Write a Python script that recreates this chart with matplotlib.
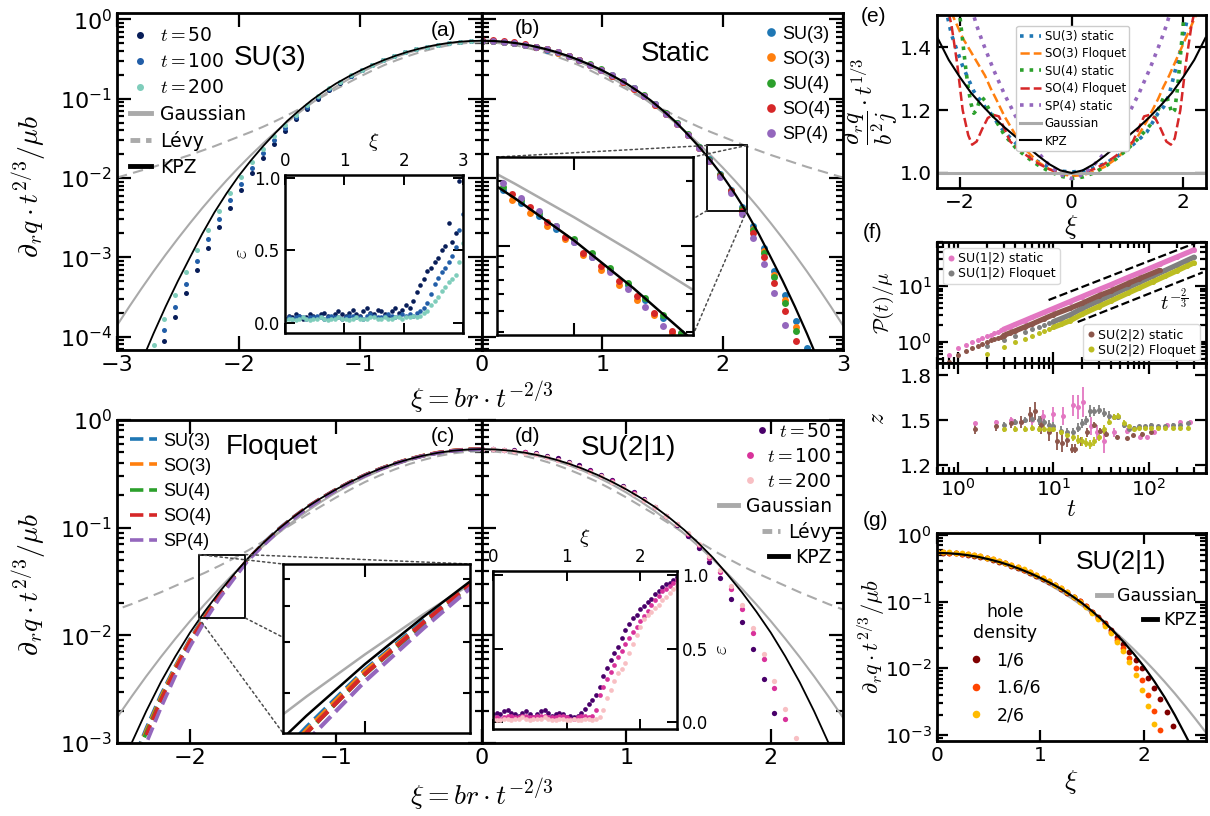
import numpy as np
import matplotlib.pyplot as plt
from matplotlib.lines import Line2D
from matplotlib.patches import Rectangle, ConnectionPatch
from matplotlib.ticker import NullFormatter

plt.rcParams['font.family'] = ['DejaVu Sans']
plt.rcParams['mathtext.fontset'] = 'cm'
nan = np.nan

# ---------------- theory curves (log10), xi >= 0, mirrored for xi < 0
xi_th = [0.0, 0.1, 0.2, 0.3, 0.4, 0.5, 0.6, 0.7, 0.8, 0.9, 1.0, 1.1, 1.2, 1.3, 1.4, 1.5,
         1.6, 1.7, 1.8, 1.9, 2.0, 2.1, 2.2, 2.3, 2.4, 2.5, 2.6, 2.7, 2.8, 2.9, 3.0]
kpz_th = [-0.270, -0.274, -0.285, -0.304, -0.330, -0.364, -0.405, -0.454, -0.510, -0.574,
          -0.645, -0.724, -0.810, -0.910, -1.020, -1.145, -1.280, -1.435, -1.600, -1.780,
          -1.975, -2.195, -2.435, -2.705, -3.000, -3.300, -3.620, -3.960, -4.320, -4.700, -5.100]
gauss_th = [-0.276, -0.280, -0.292, -0.312, -0.340, -0.376, -0.419, -0.471, -0.531, -0.598,
            -0.674, -0.758, -0.849, -0.949, -1.056, -1.172, -1.295, -1.426, -1.566, -1.713,
            -1.868, -2.031, -2.202, -2.381, -2.569, -2.764, -2.966, -3.177, -3.396, -3.623, -3.858]
levy_th = [-0.290, -0.295, -0.310, -0.335, -0.370, -0.410, -0.460, -0.515, -0.575, -0.645,
           -0.720, -0.800, -0.880, -0.965, -1.050, -1.130, -1.210, -1.285, -1.355, -1.420,
           -1.480, -1.540, -1.600, -1.655, -1.710, -1.760, -1.810, -1.860, -1.905, -1.950, -1.995]

# ---------------- (a) SU(3), static, three times (log10 values)
xi_a = [-2.70, -2.61, -2.52, -2.43, -2.34, -2.25, -2.16, -2.07, -1.98, -1.89, -1.80, -1.71,
        -1.62, -1.53, -1.44, -1.35, -1.26, -1.17, -1.08, -0.99, -0.90, -0.81, -0.72, -0.63,
        -0.54, -0.45, -0.36, -0.27, -0.18, -0.09, 0.00]
a_t50 = [nan, -4.05, -3.75, -3.45, -3.16, -2.88, -2.62, -2.38, -2.15, -1.94, -1.75, -1.57,
         -1.41, -1.26, -1.13, -1.005, -0.895, -0.800, -0.715, -0.640, -0.574, -0.515, -0.463,
         -0.418, -0.379, -0.346, -0.318, -0.297, -0.283, -0.275, -0.272]
a_t100 = [nan, -3.92, -3.62, -3.33, -3.04, -2.77, -2.52, -2.28, -2.07, -1.87, -1.69, -1.52,
          -1.37, -1.23, -1.10, -0.985, -0.880, -0.790, -0.710, -0.638, -0.572, -0.514, -0.462,
          -0.417, -0.378, -0.345, -0.318, -0.297, -0.283, -0.274, -0.271]
a_t200 = [-4.10, -3.78, -3.47, -3.19, -2.91, -2.65, -2.41, -2.19, -1.99, -1.80, -1.63, -1.47,
          -1.33, -1.20, -1.08, -0.970, -0.872, -0.785, -0.706, -0.636, -0.572, -0.514, -0.463,
          -0.418, -0.379, -0.346, -0.319, -0.298, -0.283, -0.274, -0.270]

# inset (a): epsilon vs xi
xi_ai = [0.00, 0.06, 0.12, 0.18, 0.24, 0.30, 0.36, 0.42, 0.48, 0.54, 0.60, 0.66, 0.72, 0.78,
         0.84, 0.90, 0.96, 1.02, 1.08, 1.14, 1.20, 1.26, 1.32, 1.38, 1.44, 1.50, 1.56, 1.62,
         1.68, 1.74, 1.80, 1.86, 1.92, 1.98, 2.04, 2.10, 2.16, 2.22, 2.28, 2.34, 2.40, 2.46,
         2.52, 2.58, 2.64, 2.70, 2.76, 2.82, 2.88, 2.94, 3.00]
ai_t50 = [0.03, 0.05, 0.04, 0.06, 0.05, 0.03, 0.04, 0.06, 0.05, 0.04,
          0.06, 0.07, 0.05, 0.04, 0.06, 0.08, 0.06, 0.05, 0.07, 0.09,
          0.06, 0.05, 0.08, 0.10, 0.07, 0.06, 0.09, 0.08, 0.06, 0.05,
          0.08, 0.10, 0.07, 0.09, 0.12, 0.10, 0.15, 0.21, 0.26, 0.30,
          0.36, 0.38, 0.42, 0.45, 0.50, 0.53, 0.69, 0.56, 0.62, 0.98, 1.02]
ai_t100 = [0.03, 0.04, 0.03, 0.04, 0.05, 0.04, 0.03, 0.04, 0.04, 0.05,
           0.04, 0.03, 0.04, 0.05, 0.04, 0.04, 0.03, 0.04, 0.05, 0.05,
           0.04, 0.04, 0.03, 0.05, 0.06, 0.05, 0.04, 0.04, 0.05, 0.06,
           0.05, 0.04, 0.05, 0.06, 0.05, 0.06, 0.05, 0.07, 0.08, 0.10,
           0.14, 0.20, 0.27, 0.31, 0.35, 0.38, 0.42, 0.46, 0.52, 0.64, 0.75]
ai_t200 = [0.02, 0.03, 0.03, 0.02, 0.03, 0.04, 0.03, 0.02, 0.03, 0.03,
           0.04, 0.03, 0.02, 0.03, 0.03, 0.04, 0.03, 0.03, 0.02, 0.03,
           0.04, 0.03, 0.03, 0.03, 0.04, 0.04, 0.03, 0.03, 0.04, 0.03,
           0.03, 0.04, 0.04, 0.03, 0.04, 0.04, 0.05, 0.04, 0.05, 0.07,
           0.08, 0.12, 0.15, 0.18, 0.22, 0.25, 0.28, 0.30, 0.33, 0.42, 0.55]

# ---------------- (b) static, five groups (log10)
xi_b = [0.00, 0.09, 0.18, 0.27, 0.36, 0.45, 0.54, 0.63, 0.72, 0.81, 0.90, 0.99, 1.08, 1.17,
        1.26, 1.35, 1.44, 1.53, 1.62, 1.71, 1.80, 1.89, 1.98, 2.07, 2.16, 2.25, 2.34, 2.43,
        2.52, 2.61, 2.70]
b_su3 = [-0.272, -0.276, -0.285, -0.300, -0.321, -0.349, -0.382, -0.421, -0.467, -0.518, -0.576,
         -0.640, -0.710, -0.787, -0.872, -0.967, -1.072, -1.188, -1.313, -1.453, -1.604, -1.766,
         -1.950, -2.150, -2.370, -2.610, -2.880, -3.170, -3.470, -3.800, -4.140]
b_so3 = [-0.268, -0.272, -0.281, -0.296, -0.318, -0.346, -0.380, -0.419, -0.466, -0.518, -0.577,
         -0.642, -0.713, -0.791, -0.877, -0.973, -1.079, -1.196, -1.322, -1.464, -1.617, -1.782,
         -1.967, -2.160, -2.390, -2.640, -2.920, -3.220, -3.540, -3.880, nan]
b_su4 = [-0.270, -0.274, -0.283, -0.298, -0.318, -0.345, -0.377, -0.415, -0.460, -0.510, -0.567,
         -0.630, -0.700, -0.777, -0.862, -0.958, -1.064, -1.181, -1.308, -1.450, -1.604, -1.770,
         -1.957, -2.160, -2.390, -2.650, -2.940, -3.250, -3.580, -3.930, nan]
b_so4 = [-0.262, -0.266, -0.276, -0.292, -0.314, -0.343, -0.377, -0.417, -0.464, -0.516, -0.575,
         -0.640, -0.711, -0.789, -0.875, -0.971, -1.077, -1.194, -1.321, -1.463, -1.617, -1.784,
         -1.972, -2.170, -2.410, -2.690, -2.990, -3.320, -3.680, -4.060, nan]
b_sp4 = [-0.274, -0.278, -0.287, -0.302, -0.322, -0.349, -0.380, -0.418, -0.463, -0.513, -0.570,
         -0.633, -0.703, -0.781, -0.867, -0.963, -1.070, -1.188, -1.317, -1.462, -1.620, -1.790,
         -1.985, -2.190, -2.450, -2.750, -3.080, -3.450, -3.850, nan, nan]
# inset (b)
xi_bi_a = [1.88, 1.91, 1.94, 1.97, 2.00, 2.03, 2.06, 2.09, 2.12, 2.15, 2.18]
xi_bi_b = [1.895, 1.925, 1.955, 1.985, 2.015, 2.045, 2.075, 2.105, 2.135, 2.165, 2.195]
bi_su3 = [-1.74, -1.80, -1.86, -1.92, -1.98, -2.05, -2.11, -2.18, -2.25, -2.33, -2.40]
bi_su4 = [-1.73, -1.79, -1.85, -1.91, -1.97, -2.03, -2.10, -2.17, -2.24, -2.32, -2.40]
bi_sp4 = [-1.71, -1.78, -1.84, -1.91, -1.98, -2.05, -2.12, -2.20, -2.28, -2.37, -2.46]
bi_so3 = [-1.79, -1.85, -1.91, -1.97, -2.04, -2.11, -2.18, -2.25, -2.32, -2.40, -2.48]
bi_so4 = [-1.76, -1.82, -1.89, -1.96, -2.03, -2.09, -2.16, -2.23, -2.31, -2.39, -2.47]

# ---------------- (c) Floquet (log10, at xi = -value)
xi_c = [0.0, 0.1, 0.2, 0.3, 0.4, 0.5, 0.6, 0.7, 0.8, 0.9, 1.0, 1.1, 1.2, 1.3, 1.4, 1.5, 1.6,
        1.7, 1.8, 1.9, 2.0, 2.1, 2.2, 2.3, 2.4]
c_su3 = [-0.270, -0.274, -0.285, -0.304, -0.330, -0.364, -0.405, -0.454, -0.510, -0.574, -0.645,
         -0.724, -0.810, -0.910, -1.020, -1.147, -1.290, -1.450, -1.620, -1.820, -2.035, -2.285,
         -2.555, -2.865, -3.200]
c_so3 = [-0.268, -0.272, -0.283, -0.302, -0.329, -0.363, -0.405, -0.455, -0.512, -0.577, -0.649,
         -0.729, -0.816, -0.917, -1.028, -1.155, -1.290, -1.455, -1.625, -1.830, -2.045, -2.295,
         -2.575, -2.885, -3.220]
c_su4 = [-0.271, -0.275, -0.286, -0.305, -0.331, -0.365, -0.406, -0.456, -0.512, -0.577, -0.649,
         -0.729, -0.817, -0.918, -1.030, -1.158, -1.295, -1.460, -1.635, -1.840, -2.065, -2.315,
         -2.595, -2.905, -3.250]
c_so4 = [-0.269, -0.273, -0.284, -0.303, -0.330, -0.364, -0.405, -0.455, -0.511, -0.575, -0.647,
         -0.726, -0.813, -0.914, -1.026, -1.155, -1.290, -1.455, -1.635, -1.840, -2.055, -2.315,
         -2.605, -2.925, nan]
c_sp4 = [-0.272, -0.276, -0.287, -0.306, -0.332, -0.366, -0.408, -0.458, -0.515, -0.580, -0.652,
         -0.733, -0.822, -0.925, -1.038, -1.168, -1.300, -1.475, -1.660, -1.870, -2.105, -2.375,
         -2.675, -3.005, nan]

# ---------------- (d) SU(2|1) (log10)
xi_d = [0.000, 0.075, 0.150, 0.225, 0.300, 0.375, 0.450, 0.525, 0.600, 0.675, 0.750, 0.825,
        0.900, 0.975, 1.050, 1.125, 1.200, 1.275, 1.350, 1.425, 1.500, 1.575, 1.650, 1.725,
        1.800, 1.875, 1.950, 2.025, 2.100, 2.175, 2.250]
d_t50 = [-0.268, -0.269, -0.275, -0.283, -0.294, -0.309, -0.331, -0.356, -0.386, -0.421, -0.462,
         -0.507, -0.557, -0.612, -0.672, -0.737, -0.808, -0.888, -0.975, -1.075, -1.190, -1.320,
         -1.470, -1.660, -1.880, -2.130, -2.410, -2.720, nan, nan, nan]
d_t100 = [-0.270, -0.271, -0.277, -0.287, -0.301, -0.318, -0.343, -0.370, -0.401, -0.437, -0.478,
          -0.522, -0.570, -0.623, -0.681, -0.743, -0.810, -0.887, -0.970, -1.058, -1.160, -1.280,
          -1.410, -1.570, -1.760, -1.980, -2.220, -2.490, -2.780, nan, nan]
d_t200 = [-0.272, -0.273, -0.279, -0.289, -0.303, -0.320, -0.345, -0.372, -0.403, -0.439, -0.480,
          -0.524, -0.572, -0.625, -0.683, -0.745, -0.811, -0.887, -0.968, -1.054, -1.150, -1.265,
          -1.390, -1.540, -1.720, -1.930, -2.170, -2.420, -2.680, -2.950, nan]
# inset (d)
xi_di = [0.00, 0.05, 0.10, 0.15, 0.20, 0.25, 0.30, 0.35, 0.40, 0.45, 0.50, 0.55, 0.60, 0.65,
         0.70, 0.75, 0.80, 0.85, 0.90, 0.95, 1.00, 1.05, 1.10, 1.15, 1.20, 1.25, 1.30, 1.35,
         1.40, 1.45, 1.50, 1.55, 1.60, 1.65, 1.70, 1.75, 1.80, 1.85, 1.90, 1.95, 2.00, 2.05,
         2.10, 2.15, 2.20, 2.25, 2.30, 2.35, 2.40, 2.45, 2.50]
di_t50 = [0.05, 0.06, 0.05, 0.07, 0.08, 0.06, 0.05, 0.04, 0.06, 0.07,
          0.05, 0.03, 0.05, 0.07, 0.08, 0.06, 0.04, 0.05, 0.06, 0.05,
          0.03, 0.04, 0.03, 0.04, 0.06, 0.09, 0.12, 0.15, 0.18, 0.24,
          0.31, 0.37, 0.42, 0.47, 0.51, 0.57, 0.63, 0.67, 0.71, 0.73,
          0.77, 0.79, 0.82, 0.84, 0.87, 0.89, 0.92, 0.94, 0.95, 0.97, 0.99]
di_t100 = [0.03, 0.03, 0.02, 0.03, 0.04, 0.04, 0.03, 0.03, 0.04, 0.04,
           0.03, 0.03, 0.04, 0.04, 0.04, 0.03, 0.03, 0.03, 0.04, 0.04,
           0.03, 0.02, 0.02, 0.03, 0.04, 0.04, 0.03, 0.04, 0.08, 0.18,
           0.24, 0.29, 0.34, 0.39, 0.44, 0.48, 0.53, 0.57, 0.61, 0.65,
           0.69, 0.72, 0.76, 0.80, 0.83, 0.86, 0.89, 0.91, 0.93, 0.95, 0.97]
di_t200 = [0.02, 0.01, 0.01, 0.02, 0.02, 0.01, 0.02, 0.02, 0.03, 0.02,
           0.01, 0.02, 0.02, 0.02, 0.03, 0.02, 0.01, 0.01, 0.02, 0.02,
           0.01, 0.01, 0.02, 0.01, 0.01, 0.02, 0.02, 0.01, 0.02, 0.03,
           0.08, 0.16, 0.22, 0.28, 0.33, 0.36, 0.40, 0.47, 0.53, 0.59,
           0.65, 0.70, 0.73, 0.75, 0.78, 0.80, 0.83, 0.85, 0.88, 0.91, 0.93]

# ---------------- (e) derivative ratio
e_kpz_x = [-2.4, -2.2, -2.0, -1.8, -1.6, -1.4, -1.2, -1.0, -0.8, -0.6, -0.4, -0.2, 0.0,
           0.2, 0.4, 0.6, 0.8, 1.0, 1.2, 1.4, 1.6, 1.8, 2.0, 2.2, 2.4]
e_kpz = [1.43, 1.36, 1.305, 1.255, 1.215, 1.178, 1.145, 1.115, 1.085, 1.055, 1.028, 1.008, 1.0,
         1.008, 1.028, 1.055, 1.085, 1.115, 1.145, 1.178, 1.215, 1.255, 1.305, 1.36, 1.43]
e_x35 = [-2.35, -2.25, -2.15, -2.05, -1.95, -1.85, -1.75, -1.65, -1.55, -1.45, -1.35, -1.2, -1.0,
         -0.8, -0.6, -0.4, -0.2, 0.0, 0.2, 0.4, 0.6, 0.8, 1.0, 1.2, 1.35, 1.45, 1.55, 1.65, 1.75,
         1.85, 1.95, 2.05, 2.15, 2.25, 2.35]
e_su3 = [1.60, 1.52, 1.44, 1.39, 1.34, 1.30, 1.26, 1.235, 1.21, 1.19, 1.165, 1.13, 1.095, 1.06,
         1.036, 1.018, 1.006, 1.003, 1.006, 1.016, 1.03, 1.05, 1.075, 1.105, 1.13, 1.16, 1.19,
         1.21, 1.25, 1.32, 1.39, 1.47, 1.55, 1.62, 1.70]
e_so3 = [1.63, 1.56, 1.51, 1.47, 1.43, 1.40, 1.37, 1.34, 1.31, 1.27, 1.235, 1.18, 1.12, 1.07,
         1.035, 1.012, 0.997, 0.99, 0.993, 1.003, 1.02, 1.045, 1.078, 1.12, 1.165, 1.20, 1.235,
         1.275, 1.31, 1.35, 1.39, 1.43, 1.47, 1.51, 1.55]
e_su4_x = [-2.1, -2.0, -1.95, -1.9, -1.85, -1.8, -1.75, -1.7, -1.65, -1.6, -1.55, -1.5, -1.4,
           -1.3, -1.2, -1.0, -0.8, -0.6, -0.4, -0.2, 0.0, 0.2, 0.4, 0.6, 0.8, 1.0, 1.2, 1.4,
           1.5, 1.6, 1.65, 1.7, 1.75, 1.8, 1.85, 1.9, 1.95, 2.0, 2.1]
e_su4 = [1.62, 1.50, 1.42, 1.34, 1.27, 1.22, 1.19, 1.20, 1.23, 1.24, 1.23, 1.21, 1.18, 1.15,
         1.12, 1.08, 1.05, 1.025, 1.005, 0.99, 0.982, 0.987, 1.0, 1.02, 1.045, 1.075, 1.11,
         1.15, 1.18, 1.22, 1.24, 1.245, 1.22, 1.19, 1.20, 1.27, 1.37, 1.47, 1.62]
e_so4_x = [-2.25, -2.15, -2.05, -1.95, -1.85, -1.78, -1.7, -1.6, -1.5, -1.4, -1.3, -1.2, -1.1,
           -1.0, -0.8, -0.6, -0.4, -0.2, 0.0, 0.2, 0.4, 0.6, 0.8, 1.0, 1.1, 1.2, 1.3, 1.4, 1.5,
           1.6, 1.7, 1.78, 1.85, 1.95, 2.05, 2.15, 2.25]
e_so4 = [1.55, 1.47, 1.35, 1.20, 1.12, 1.09, 1.10, 1.14, 1.175, 1.185, 1.18, 1.14, 1.10, 1.085,
         1.055, 1.03, 1.012, 1.0, 0.995, 1.0, 1.012, 1.03, 1.055, 1.085, 1.10, 1.14, 1.18, 1.185,
         1.175, 1.14, 1.10, 1.09, 1.11, 1.20, 1.35, 1.47, 1.55]
e_sp4_x = [-1.85, -1.7, -1.6, -1.4, -1.2, -1.0, -0.8, -0.6, -0.4, -0.2, 0.0, 0.2, 0.4, 0.6,
           0.8, 1.0, 1.2, 1.4, 1.6, 1.7, 1.85]
e_sp4 = [1.56, 1.47, 1.42, 1.33, 1.25, 1.18, 1.12, 1.065, 1.025, 0.995, 0.982, 0.995, 1.025,
         1.065, 1.12, 1.18, 1.25, 1.33, 1.42, 1.47, 1.56]
e_gauss_x = [-2.4, 2.4]
e_gauss = [1.0, 1.0]

# ---------------- (f) P(t)/mu and z
f_t_st = [0.8, 1.0, 1.2, 1.4, 1.6, 1.8, 2.0, 2.2, 2.4, 2.6, 2.8, 3.0, 3.5, 4, 5, 6, 8, 10, 15,
          20, 30, 40, 60, 80, 130, 200, 300]
f_su12_st = [0.59, 0.77, 0.88, 0.98, 1.08, 1.17, 1.26, 1.35, 1.44, 1.52, 1.60, 1.68, 1.87, 2.06,
             2.41, 2.75, 3.37, 3.95, 5.27, 6.45, 8.6, 10.5, 14.1, 17.2, 24.4, 33.1, 44.2]
f_su22_st = [0.43, 0.59, 0.69, 0.77, 0.85, 0.92, 0.99, 1.06, 1.12, 1.18, 1.24, 1.30, 1.45, 1.58,
             1.85, 2.10, 2.60, 3.07, 4.0, 4.9, 6.7, 8.1, 11.0, 13.5, 19.0, nan, nan]
f_t_fl = [2, 3, 4, 5, 6, 7, 8, 9, 10, 12, 15, 20, 30, 40, 60, 80, 110, 150, 200, 250, 300]
f_su12_fl = [0.83, 1.07, 1.30, 1.50, 1.68, 1.85, 2.00, 2.15, 2.30, 2.60, 3.05, 3.95, 5.42, 6.79,
             9.3, 11.6, 14.9, 19.0, 23.8, 28.4, 32.7]
f_su22_fl = [0.60, 0.82, 1.00, 1.15, 1.30, 1.44, 1.57, 1.70, 1.82, 2.05, 2.40, 3.12, 4.29, 5.37,
             7.37, 9.2, 11.8, 15.0, 18.8, 22.5, 25.9]
guide_t_hi = [8.9, 330]
guide_p_hi = [5.6, 61]
guide_t_lo = [18, 370]
guide_p_lo = [2.27, 17.5]

z_t_st12 = [1.5, 2.5, 3.6, 4.6, 5.9, 7.8, 10, 12.7, 16.2, 18, 20.6, 25, 29, 33.6, 42.8, 59, 81,
            96, 113, 155, 215, 275]
z_su12_st = [1.48, 1.49, 1.50, 1.49, 1.50, 1.53, 1.54, 1.53, 1.60, 1.59, 1.62, 1.46, 1.42, 1.36,
             1.42, 1.43, 1.39, 1.39, 1.42, 1.47, 1.49, 1.49]
z_su12_st_err = [0.01, 0.01, 0.02, 0.02, 0.03, 0.04, 0.05, 0.06, 0.07, 0.08, 0.10, 0.06, 0.05,
                 0.08, 0.03, 0.02, 0.01, 0.01, 0.01, 0.01, 0.01, 0.01]
z_t_st22 = [1.5, 2.5, 3.6, 4.6, 5.7, 6.4, 7.5, 9.0, 10.8, 12.2, 13.8, 15.6, 17, 19.5, 22.4, 26.4,
            31, 36, 46, 59, 69, 85, 105]
z_su22_st = [1.44, 1.46, 1.48, 1.49, 1.54, 1.56, 1.47, 1.42, 1.36, 1.35, 1.37, 1.31, 1.31, 1.36,
             1.42, 1.47, 1.43, 1.41, 1.39, 1.38, 1.40, 1.41, 1.42]
z_su22_st_err = [0.03, 0.03, 0.03, 0.04, 0.05, 0.06, 0.06, 0.06, 0.06, 0.06, 0.05, 0.03, 0.03,
                 0.03, 0.03, 0.02, 0.02, 0.02, 0.01, 0.01, 0.01, 0.01, 0.01]
z_t_fl = [3, 4, 5, 6, 7, 8, 9, 10, 12, 14, 16, 18, 20, 22, 24, 27, 30, 34, 38, 43, 48, 55, 62, 70,
          80, 92, 105, 125, 150, 180, 215, 260]
z_su12_fl = [1.47, 1.49, 1.50, 1.51, 1.50, 1.49, 1.47, 1.46, 1.43, 1.42, 1.42, 1.45, 1.48, 1.50,
             1.56, 1.56, 1.57, 1.55, 1.53, 1.52, 1.52, 1.47, 1.44, 1.45, 1.46, 1.46, 1.47, 1.46,
             1.46, 1.47, 1.47, 1.48]
z_su12_fl_err = [0.02, 0.02, 0.02, 0.03, 0.03, 0.03, 0.03, 0.03, 0.03, 0.03, 0.03, 0.03, 0.03,
                 0.03, 0.04, 0.03, 0.03, 0.03, 0.03, 0.02, 0.02, 0.02, 0.02, 0.01, 0.01, 0.01,
                 0.01, 0.01, 0.01, 0.01, 0.01, 0.01]
z_su22_fl = [1.44, 1.44, 1.44, 1.45, 1.44, 1.44, 1.44, 1.44, 1.42, 1.40, 1.39, 1.37, 1.36, 1.35,
             1.34, 1.36, 1.39, 1.44, 1.49, 1.52, 1.53, 1.48, 1.46, 1.44, 1.45, 1.45, 1.45, 1.45,
             1.45, 1.45, 1.45, 1.45]
z_su22_fl_err = [0.02, 0.02, 0.02, 0.02, 0.02, 0.02, 0.02, 0.02, 0.02, 0.02, 0.03, 0.03, 0.03,
                 0.03, 0.03, 0.03, 0.03, 0.03, 0.02, 0.02, 0.02, 0.02, 0.01, 0.01, 0.01, 0.01,
                 0.01, 0.01, 0.01, 0.01, 0.01, 0.01]

# ---------------- (g) SU(2|1) hole densities (log10)
xi_g = [0.00, 0.06, 0.12, 0.18, 0.24, 0.30, 0.36, 0.42, 0.48, 0.54, 0.60, 0.66, 0.72, 0.78,
        0.84, 0.90, 0.96, 1.02, 1.08, 1.14, 1.20, 1.26, 1.32, 1.38, 1.44, 1.50, 1.56, 1.62,
        1.68, 1.74, 1.80, 1.86, 1.92, 1.98, 2.04, 2.10, 2.16, 2.22, 2.28]
g_h1 = [-0.262, -0.264, -0.268, -0.275, -0.284, -0.296, -0.311, -0.329, -0.350, -0.373, -0.399,
        -0.428, -0.459, -0.493, -0.530, -0.569, -0.611, -0.656, -0.704, -0.755, -0.808, -0.868,
        -0.930, -0.998, -1.072, -1.150, -1.235, -1.325, -1.425, -1.530, -1.640, -1.755, -1.875,
        -2.000, -2.140, -2.290, -2.460, -2.650, -2.860]
g_h16 = [-0.258, -0.260, -0.264, -0.271, -0.280, -0.292, -0.306, -0.323, -0.343, -0.366, -0.391,
         -0.419, -0.450, -0.483, -0.520, -0.559, -0.601, -0.646, -0.694, -0.745, -0.800, -0.860,
         -0.925, -0.995, -1.070, -1.152, -1.240, -1.340, -1.450, -1.570, -1.700, -1.840, -1.995,
         -2.180, -2.400, -2.640, -2.920, nan, nan]
g_h2 = [-0.255, -0.257, -0.261, -0.268, -0.277, -0.289, -0.303, -0.320, -0.340, -0.362, -0.387,
        -0.415, -0.446, -0.479, -0.516, -0.555, -0.598, -0.643, -0.692, -0.744, -0.800, -0.862,
        -0.929, -1.001, -1.080, -1.165, -1.258, -1.360, -1.475, -1.600, -1.740, -1.905, -2.100,
        -2.320, -2.560, -2.840, nan, nan, nan]

GRAY = '#aaaaaa'
C5 = ['tab:blue', 'tab:orange', 'tab:green', 'tab:red', 'tab:purple']
CA = ['#081d58', '#225ea8', '#7fcdbb']
CD = ['#49006a', '#d8329a', '#f8bfc3']
CG = ['#800000', '#ff4500', '#ffbb00']
ARIAL = 'Liberation Sans'

W, H = 1210, 816
fig = plt.figure(figsize=(W / 100, H / 100), dpi=100)


def box(l, t, r, b):
    return [l / W, 1 - b / H, (r - l) / W, (b - t) / H]


def ftext(x, y, s, **kw):
    fig.text(x / W, 1 - y / H, s, ha='center', va='center', **kw)


def style(ax, size=16, major=10, minor=5, width=1.6, spine=2.0):
    ax.tick_params(which='both', direction='in', top=True, right=True, width=width)
    ax.tick_params(which='major', length=major, labelsize=size)
    ax.tick_params(which='minor', length=minor)
    for s in ax.spines.values():
        s.set_linewidth(spine)


def right_align(leg):
    for col in leg._legend_handle_box.get_children():
        col.align = 'right'


def lg(v):
    return 10 ** np.asarray(v, dtype=float)


xth = np.asarray(xi_th)
xfull = np.concatenate([-xth[:0:-1], xth])


def full(v):
    v = np.asarray(v, dtype=float)
    return 10 ** np.concatenate([v[:0:-1], v])


def theory(ax, levy=True, lw=1.5):
    ax.plot(xfull, full(gauss_th), color=GRAY, lw=lw)
    if levy:
        ax.plot(xfull, full(levy_th), color=GRAY, lw=lw, ls='--', dashes=(5, 3))


def kpz(ax, lw=1.3):
    ax.plot(xfull, full(kpz_th), color='k', lw=lw, zorder=4)


def zoom_box(ax, ins, x0, x1, y0, y1):
    ax.add_patch(Rectangle((x0, y0), x1 - x0, y1 - y0, fill=False, ec='k', lw=1.3, zorder=6))
    pairs = [((x0, y1), (0, 1)), ((x1, y1), (1, 1)), ((x0, y0), (0, 0)), ((x1, y0), (1, 0))]
    for (xa, ya), (xb, yb) in pairs:
        cp = ConnectionPatch(xyA=(xa, ya), coordsA=ax.transData, xyB=(xb, yb),
                             coordsB=ins.transAxes, ls=(0, (1.5, 2.0)), color='0.3', lw=1.1)
        cp.set_zorder(1)
        fig.add_artist(cp)


h_gauss = Line2D([], [], color=GRAY, lw=3.5)
h_levy = Line2D([], [], color=GRAY, lw=3.5, ls='--', dashes=(2, 1.2))
h_kpz = Line2D([], [], color='k', lw=3.5)

# ======================= (a)
ax_a = fig.add_axes(box(117, 13, 482, 350))
theory(ax_a)
da = [ax_a.plot(xi_a, lg(v), 'o', ms=3.6, mew=0, color=c)[0]
      for v, c in zip([a_t50, a_t100, a_t200], CA)]
kpz(ax_a)
ax_a.set_yscale('log')
ax_a.set_xlim(-3, 0)
ax_a.set_ylim(6.8e-5, 1.2)
ax_a.set_xticks([-3, -2, -1, 0])
style(ax_a)
ax_a.legend(da + [h_gauss, h_levy, h_kpz],
            [r'$t=$50', r'$t=$100', r'$t=$200', 'Gaussian', 'Lévy', 'KPZ'],
            loc='upper left', bbox_to_anchor=(0.0, 1.0), frameon=False, fontsize=13.5,
            handlelength=1.1, handletextpad=0.5, labelspacing=0.38, borderaxespad=0.3,
            markerscale=1.4)
ax_a.text(0.42, 0.866, 'SU(3)', transform=ax_a.transAxes, fontsize=20, family=ARIAL,
          ha='center', va='center')

ins_a = fig.add_axes(box(285, 175, 463, 333))
ins_a.set_zorder(2)
for v, c in zip([ai_t50, ai_t100, ai_t200], CA):
    ins_a.plot(xi_ai, v, 'o', ms=3.3, mew=0, color=c)
ins_a.set_xlim(0, 3)
ins_a.set_ylim(-0.07, 1.02)
ins_a.set_xticks([0, 1, 2, 3])
ins_a.set_yticks([0, 0.5, 1.0])
ins_a.set_yticklabels(['0.0', '0.5', '1.0'])
style(ins_a, size=12, major=7, minor=3, width=1.4, spine=1.8)
ins_a.tick_params(labeltop=True, labelbottom=False)
ins_a.xaxis.set_label_position('top')
ins_a.set_xlabel(r'$\xi$', fontsize=15)
ins_a.set_ylabel(r'$\varepsilon$', fontsize=15, labelpad=2)

# ======================= (b)
ax_b = fig.add_axes(box(482, 13, 843, 350))
theory(ax_b)
db = [ax_b.plot(xi_b, lg(v), 'o', ms=5, mew=0, color=c)[0]
      for v, c in zip([b_su3, b_so3, b_su4, b_so4, b_sp4], C5)]
kpz(ax_b, lw=1.6)
ax_b.set_yscale('log')
ax_b.set_xlim(0, 3)
ax_b.set_ylim(6.8e-5, 1.2)
ax_b.set_xticks([0, 1, 2, 3])
ax_b.set_xticklabels(['', '1', '2', '3'])
style(ax_b)
ax_b.tick_params(labelleft=False)
ax_b.legend(db, ['SU(3)', 'SO(3)', 'SU(4)', 'SO(4)', 'SP(4)'], loc='upper right',
            bbox_to_anchor=(1.0, 1.0), frameon=False, handlelength=0.6, handletextpad=0.3,
            labelspacing=0.45, borderaxespad=0.3, markerscale=1.25,
            prop={'family': ARIAL, 'size': 13})
ax_b.text(0.537, 0.878, 'Static', transform=ax_b.transAxes, fontsize=20, family=ARIAL,
          ha='center', va='center')

ins_b = fig.add_axes(box(497, 157, 693, 335))
ins_b.set_zorder(2)
ins_b.plot(xfull, full(gauss_th), color=GRAY, lw=1.8)
for xs, v, c in [(xi_bi_a, bi_su3, C5[0]), (xi_bi_b, bi_so3, C5[1]), (xi_bi_a, bi_su4, C5[2]),
                 (xi_bi_b, bi_so4, C5[3]), (xi_bi_a, bi_sp4, C5[4])]:
    ins_b.plot(xs, lg(v), 'o', ms=5, mew=0, color=c)
ins_b.plot(xfull, full(kpz_th), color='k', lw=1.8)
ins_b.set_yscale('log')
ins_b.set_xlim(1.87, 2.2)
ins_b.set_ylim(10 ** -2.41, 10 ** -1.59)
ins_b.set_xticks([2.0])
ins_b.set_xticklabels([])
ins_b.yaxis.set_major_formatter(NullFormatter())
ins_b.yaxis.set_minor_formatter(NullFormatter())
style(ins_b, size=10, major=9, minor=5, width=1.5, spine=1.8)
zoom_box(ax_b, ins_b, 1.87, 2.2, 10 ** -2.41, 10 ** -1.59)

# ======================= (c)
ax_c = fig.add_axes(box(117, 420, 482, 743))
theory(ax_c)
xc = -np.asarray(xi_c)
dc = [ax_c.plot(xc, lg(v), ls='--', lw=2.6, color=c)[0]
      for v, c in zip([c_su3, c_so3, c_su4, c_so4, c_sp4], C5)]
kpz(ax_c)
ax_c.set_yscale('log')
ax_c.set_xlim(-2.5, 0)
ax_c.set_ylim(1e-3, 1.0)
ax_c.set_xticks([-2, -1, 0])
style(ax_c)
ax_c.legend(dc, ['SU(3)', 'SO(3)', 'SU(4)', 'SO(4)', 'SP(4)'], loc='upper left',
            bbox_to_anchor=(0.0, 1.0), frameon=False, handlelength=1.5, handletextpad=0.35,
            labelspacing=0.45, borderaxespad=0.3, prop={'family': ARIAL, 'size': 13})
ax_c.text(0.425, 0.916, 'Floquet', transform=ax_c.transAxes, fontsize=20, family=ARIAL,
          ha='center', va='center')

ins_c = fig.add_axes(box(283, 564, 470, 733))
ins_c.set_zorder(2)
ins_c.plot(xfull, full(gauss_th), color=GRAY, lw=1.8)
for v, c in zip([c_su3, c_so3, c_su4, c_so4, c_sp4], C5):
    ins_c.plot(xc, lg(v), ls='--', lw=3, color=c)
ins_c.plot(xfull, full(kpz_th), color='k', lw=1.8)
ins_c.set_yscale('log')
ins_c.set_xlim(-1.94, -1.62)
ins_c.set_ylim(10 ** -1.84, 10 ** -1.25)
ins_c.set_xticks([-1.8])
ins_c.set_xticklabels([])
ins_c.yaxis.set_major_formatter(NullFormatter())
ins_c.yaxis.set_minor_formatter(NullFormatter())
style(ins_c, size=10, major=9, minor=5, width=1.5, spine=1.8)
zoom_box(ax_c, ins_c, -1.94, -1.62, 10 ** -1.84, 10 ** -1.25)

# ======================= (d)
ax_d = fig.add_axes(box(482, 420, 843, 743))
theory(ax_d)
dd = [ax_d.plot(xi_d, lg(v), 'o', ms=3.8, mew=0, color=c)[0]
      for v, c in zip([d_t50, d_t100, d_t200], CD)]
kpz(ax_d)
ax_d.set_yscale('log')
ax_d.set_xlim(0, 2.5)
ax_d.set_ylim(1e-3, 1.0)
ax_d.set_xticks([0, 1, 2])
ax_d.set_xticklabels(['', '1', '2'])
style(ax_d)
ax_d.tick_params(labelleft=False)
leg_d = ax_d.legend(dd + [h_gauss, h_levy, h_kpz],
                    [r'$t=$50', r'$t=$100', r'$t=$200', 'Gaussian', 'Lévy', 'KPZ'],
                    loc='upper right', bbox_to_anchor=(1.0, 1.03), frameon=False,
                    fontsize=13.5, handlelength=1.0, handletextpad=0.4, labelspacing=0.32,
                    borderaxespad=0.2, markerscale=1.3)
right_align(leg_d)
ax_d.text(0.407, 0.913, 'SU(2|1)', transform=ax_d.transAxes, fontsize=20, family=ARIAL,
          ha='center', va='center')

ins_d = fig.add_axes(box(493, 571, 677, 729))
ins_d.set_zorder(2)
for v, c in zip([di_t50, di_t100, di_t200], CD):
    ins_d.plot(xi_di, v, 'o', ms=3.4, mew=0, color=c)
ins_d.set_xlim(0, 2.5)
ins_d.set_ylim(-0.05, 1.03)
ins_d.set_xticks([0, 1, 2])
ins_d.set_yticks([0, 0.5, 1.0])
ins_d.set_yticklabels(['0.0', '0.5', '1.0'])
style(ins_d, size=12, major=7, minor=3, width=1.4, spine=1.8)
ins_d.tick_params(labeltop=True, labelbottom=False, labelright=True, labelleft=False)
ins_d.xaxis.set_label_position('top')
ins_d.yaxis.set_label_position('right')
ins_d.set_xlabel(r'$\xi$', fontsize=15)
ins_d.set_ylabel(r'$\varepsilon$', fontsize=15, labelpad=2)

# ======================= (e)
ax_e = fig.add_axes(box(937, 15, 1206, 188))
le = []
le += ax_e.plot(e_x35, e_su3, ls=':', lw=2.6, color=C5[0], label='SU(3) static')
le += ax_e.plot(e_x35, e_so3, ls='--', lw=1.8, color=C5[1], label='SO(3) Floquet')
le += ax_e.plot(e_su4_x, e_su4, ls=':', lw=2.6, color=C5[2], label='SU(4) static')
le += ax_e.plot(e_so4_x, e_so4, ls='--', lw=1.8, color=C5[3], label='SO(4) Floquet')
le += ax_e.plot(e_sp4_x, e_sp4, ls=':', lw=2.6, color=C5[4], label='SP(4) static')
le += ax_e.plot(e_gauss_x, e_gauss, color=GRAY, lw=2.2, label='Gaussian')
le += ax_e.plot(e_kpz_x, e_kpz, color='k', lw=1.5, label='KPZ')
ax_e.set_xlim(-2.41, 2.41)
ax_e.set_ylim(0.952, 1.503)
ax_e.set_xticks([-2, 0, 2])
ax_e.set_yticks([1.0, 1.2, 1.4])
ax_e.set_yticklabels(['1.0', '1.2', '1.4'])
style(ax_e, size=14.5, major=8)
ax_e.set_xlabel(r'$\xi$', fontsize=20, labelpad=1)
ax_e.set_ylabel(r'$\dfrac{\partial_r q}{b^2 j}\cdot t^{1/3}$', fontsize=17, labelpad=0)
ax_e.legend(handles=le, loc='upper center', bbox_to_anchor=(0.505, 0.97), fontsize=8.5,
            handlelength=1.8, handletextpad=0.3, labelspacing=0.38, borderpad=0.3,
            framealpha=1, edgecolor='0.8', fancybox=True)

# ======================= (f)
ax_f1 = fig.add_axes(box(937, 242, 1206, 363))
ax_f2 = fig.add_axes(box(937, 363, 1206, 473))
fc = {'st12': '#e377c2', 'fl12': '#7f7f7f', 'st22': '#8c564b', 'fl22': '#bcbd22'}
h1 = ax_f1.plot(f_t_st, f_su12_st, 'o', ms=3.6, mew=0, color=fc['st12'])[0]
ax_f1.plot(f_t_st[11:], f_su12_st[11:], '-', lw=3.8, color=fc['st12'], solid_capstyle='round')
h2 = ax_f1.plot(f_t_fl, f_su12_fl, 'o', ms=3.6, mew=0, color=fc['fl12'])[0]
ax_f1.plot(f_t_fl[8:], f_su12_fl[8:], '-', lw=3.8, color=fc['fl12'], solid_capstyle='round')
h3 = ax_f1.plot(f_t_st, f_su22_st, 'o', ms=3.6, mew=0, color=fc['st22'])[0]
ax_f1.plot(f_t_st[11:], f_su22_st[11:], '-', lw=3.8, color=fc['st22'], solid_capstyle='round')
h4 = ax_f1.plot(f_t_fl, f_su22_fl, 'o', ms=3.6, mew=0, color=fc['fl22'])[0]
ax_f1.plot(f_t_fl[8:], f_su22_fl[8:], '-', lw=3.8, color=fc['fl22'], solid_capstyle='round')
ax_f1.plot(guide_t_hi, guide_p_hi, 'k--', lw=1.6)
ax_f1.plot(guide_t_lo, guide_p_lo, 'k--', lw=1.6)
ax_f1.text(185, 5.6, r'$t^{-\frac{2}{3}}$', fontsize=15, ha='center', va='center')
ax_f1.set_xscale('log')
ax_f1.set_yscale('log')
ax_f1.set_xlim(0.6, 400)
ax_f1.set_ylim(0.42, 61)
style(ax_f1, size=14.5, major=8, minor=4)
ax_f1.tick_params(labelbottom=False)
ax_f1.set_ylabel(r'$\mathcal{P}(t)/\mu$', fontsize=15, labelpad=0)
lf1 = ax_f1.legend([h1, h2], ['SU(1|2) static', 'SU(1|2) Floquet'], loc='upper left',
                   bbox_to_anchor=(0.0, 1.0), fontsize=9, handlelength=0.6,
                   handletextpad=0.3, labelspacing=0.2, borderpad=0.3, framealpha=1,
                   edgecolor='0.85', markerscale=1.2)
ax_f1.add_artist(lf1)
ax_f1.legend([h3, h4], ['SU(2|2) static', 'SU(2|2) Floquet'], loc='lower right',
             bbox_to_anchor=(1.0, -0.03), fontsize=9, handlelength=0.6,
             handletextpad=0.3, labelspacing=0.2, borderpad=0.3, framealpha=1,
             edgecolor='0.85', markerscale=1.2)

for t, z, e, c in [(z_t_st12, z_su12_st, z_su12_st_err, fc['st12']),
                   (z_t_fl, z_su12_fl, z_su12_fl_err, fc['fl12']),
                   (z_t_st22, z_su22_st, z_su22_st_err, fc['st22']),
                   (z_t_fl, z_su22_fl, z_su22_fl_err, fc['fl22'])]:
    ax_f2.errorbar(t, z, yerr=e, fmt='o', ms=3.6, mew=0, color=c, elinewidth=1.3, capsize=0)
ax_f2.set_xscale('log')
ax_f2.set_xlim(0.6, 400)
ax_f2.set_ylim(1.15, 1.88)
ax_f2.set_yticks([1.2, 1.5, 1.8])
style(ax_f2, size=14.5, major=8, minor=4)
ax_f2.set_xlabel(r'$t$', fontsize=18, labelpad=-2)
ax_f2.set_ylabel(r'$z$', fontsize=17, labelpad=8)

# ======================= (g)
ax_g = fig.add_axes(box(937, 533, 1206, 741))
ax_g.plot(xth, lg(gauss_th), color=GRAY, lw=1.6)
dg = [ax_g.plot(xi_g, lg(v), 'o', ms=4.2, mew=0, color=c)[0]
      for v, c in zip([g_h1, g_h16, g_h2], CG)]
ax_g.plot(xth, lg(kpz_th), color='k', lw=1.6)
ax_g.set_yscale('log')
ax_g.set_xlim(0, 2.6)
ax_g.set_ylim(8.1e-4, 1.07)
ax_g.set_xticks([0, 1, 2])
style(ax_g, size=14.5, major=8, minor=4)
ax_g.set_xlabel(r'$\xi$', fontsize=20, labelpad=2)
ax_g.set_ylabel(r'$\partial_r q\cdot t^{2/3}/\mu b$', fontsize=16, labelpad=-2)
ax_g.text(0.684, 0.86, 'SU(2|1)', transform=ax_g.transAxes, fontsize=19, family=ARIAL,
          ha='center', va='center')
lg1 = ax_g.legend([h_gauss, h_kpz], ['Gaussian', 'KPZ'], loc='upper right',
                  bbox_to_anchor=(1.0, 0.78), frameon=False, fontsize=12.5, handlelength=0.8,
                  handletextpad=0.4, labelspacing=0.3, borderaxespad=0.1)
right_align(lg1)
ax_g.add_artist(lg1)
lg2 = ax_g.legend(dg, ['1/6', '1.6/6', '2/6'], title='hole\ndensity', loc='upper left',
                  bbox_to_anchor=(0.06, 0.74), frameon=False, fontsize=12.5,
                  title_fontsize=12.5, handlelength=0.8, handletextpad=0.8,
                  labelspacing=0.55, markerscale=1.3)
lg2.get_title().set_multialignment('center')

# ======================= shared labels and panel letters
ylab = r'$\partial_r q\cdot t^{2/3}/\mu b$'
ftext(30, 187, ylab, fontsize=20, rotation=90)
ftext(30, 585, ylab, fontsize=20, rotation=90)
xlab = r'$\xi = br\cdot t^{-2/3}$'
ftext(482, 398, xlab, fontsize=20)
ftext(482, 795, xlab, fontsize=20)
for s, x, y in [('(a)', 443, 30), ('(b)', 527, 28), ('(c)', 443, 437), ('(d)', 527, 437),
                ('(e)', 874, 16), ('(f)', 873, 232), ('(g)', 876, 520)]:
    ftext(x, y, s, fontsize=15, family=ARIAL)

fig.savefig('out.png', dpi=100)
